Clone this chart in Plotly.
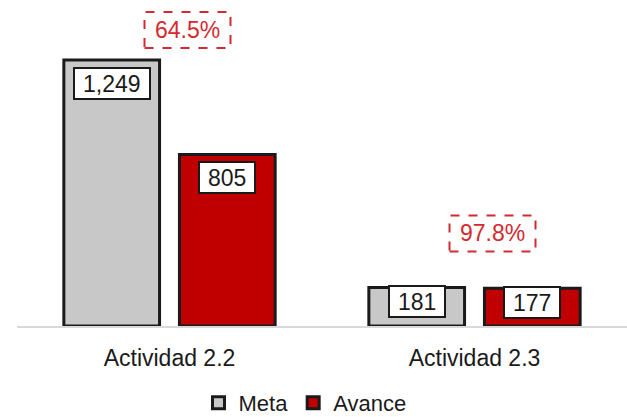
import plotly.graph_objects as go

categories = ["Actividad 2.2", "Actividad 2.3"]
meta = [1249, 181]
avance = [805, 177]
series_names = ["Meta", "Avance"]

GRAY = "#C8C8C8"
RED = "#C00000"
PCT_RED = "#D42A2F"
FONT = "Liberation Sans, Arial, sans-serif"

fig = go.Figure()
fig.add_trace(go.Bar(name=series_names[0], x=categories, y=meta,
                     marker=dict(color=GRAY, line=dict(color="#1a1a1a", width=3))))
fig.add_trace(go.Bar(name=series_names[1], x=categories, y=avance,
                     marker=dict(color=RED, line=dict(color="#1a1a1a", width=3))))

ymax = 1484
px_per_unit = 316 / ymax


def fmt(v):
    return f"{v:,}"


def text_w(s, size=23):
    w = 0
    for ch in s:
        w += 0.278 if ch in ",." else (0.889 if ch == "%" else 0.556)
    return w * size


annotations = []
shapes = []
for ci, cat in enumerate(categories):
    for si, vals in enumerate([meta, avance]):
        v = vals[ci]
        off = -0.19 if si == 0 else 0.19
        bar_px = v * px_per_unit
        shift = -23 if bar_px > 60 else -14
        s = fmt(v)
        annotations.append(dict(
            x=ci + off, y=v, xref="x", yref="y", text=s, showarrow=False,
            yanchor="middle", xanchor="center", yshift=shift,
            font=dict(family=FONT, size=23, color="#1a1a1a"),
            bgcolor="white", bordercolor="#1a1a1a", borderwidth=2, borderpad=2,
            width=text_w(s) + 12, height=25,
        ))
    pct = avance[ci] / meta[ci] * 100
    ptxt = f"{pct:.1f}%"
    top = max(meta[ci], avance[ci])
    pshift = 30 if ci == 0 else 54
    annotations.append(dict(
        x=ci, y=top, xref="x", yref="y", text=ptxt, showarrow=False,
        xshift=18, yshift=pshift, yanchor="middle", xanchor="center",
        font=dict(family=FONT, size=23, color=PCT_RED),
    ))
    shapes.append(dict(
        type="rect", xref="x", yref="y", xsizemode="pixel", ysizemode="pixel",
        xanchor=ci, yanchor=top,
        x0=18 - 43, x1=18 + 43, y0=pshift - 18, y1=pshift + 18,
        line=dict(color=PCT_RED, width=2, dash="dash"), fillcolor="rgba(0,0,0,0)",
    ))

L = 17
fig.update_layout(
    width=627, height=417,
    margin=dict(l=L, r=0, t=10, b=91, autoexpand=False),
    paper_bgcolor="white", plot_bgcolor="white",
    barmode="group", bargap=0.242, bargroupgap=0.172,
    font=dict(family=FONT, size=22, color="#1a1a1a"),
    showlegend=True,
    legend=dict(orientation="h", x=(305 - L) / (627 - L), xanchor="center",
                y=-(403 - 326) / 316, yanchor="middle",
                font=dict(size=22), itemwidth=30, traceorder="normal"),
    xaxis=dict(showline=True, linecolor="#D9D9D9", linewidth=2, ticks="",
               tickfont=dict(size=23), range=[-0.5, 1.5], ticklabelstandoff=10),
    yaxis=dict(visible=False, range=[0, ymax], showgrid=False, zeroline=False),
    annotations=annotations,
    shapes=shapes,
)

fig.write_html("out.html", config={"displayModeBar": False},
               post_script="document.body.style.margin='0';")
